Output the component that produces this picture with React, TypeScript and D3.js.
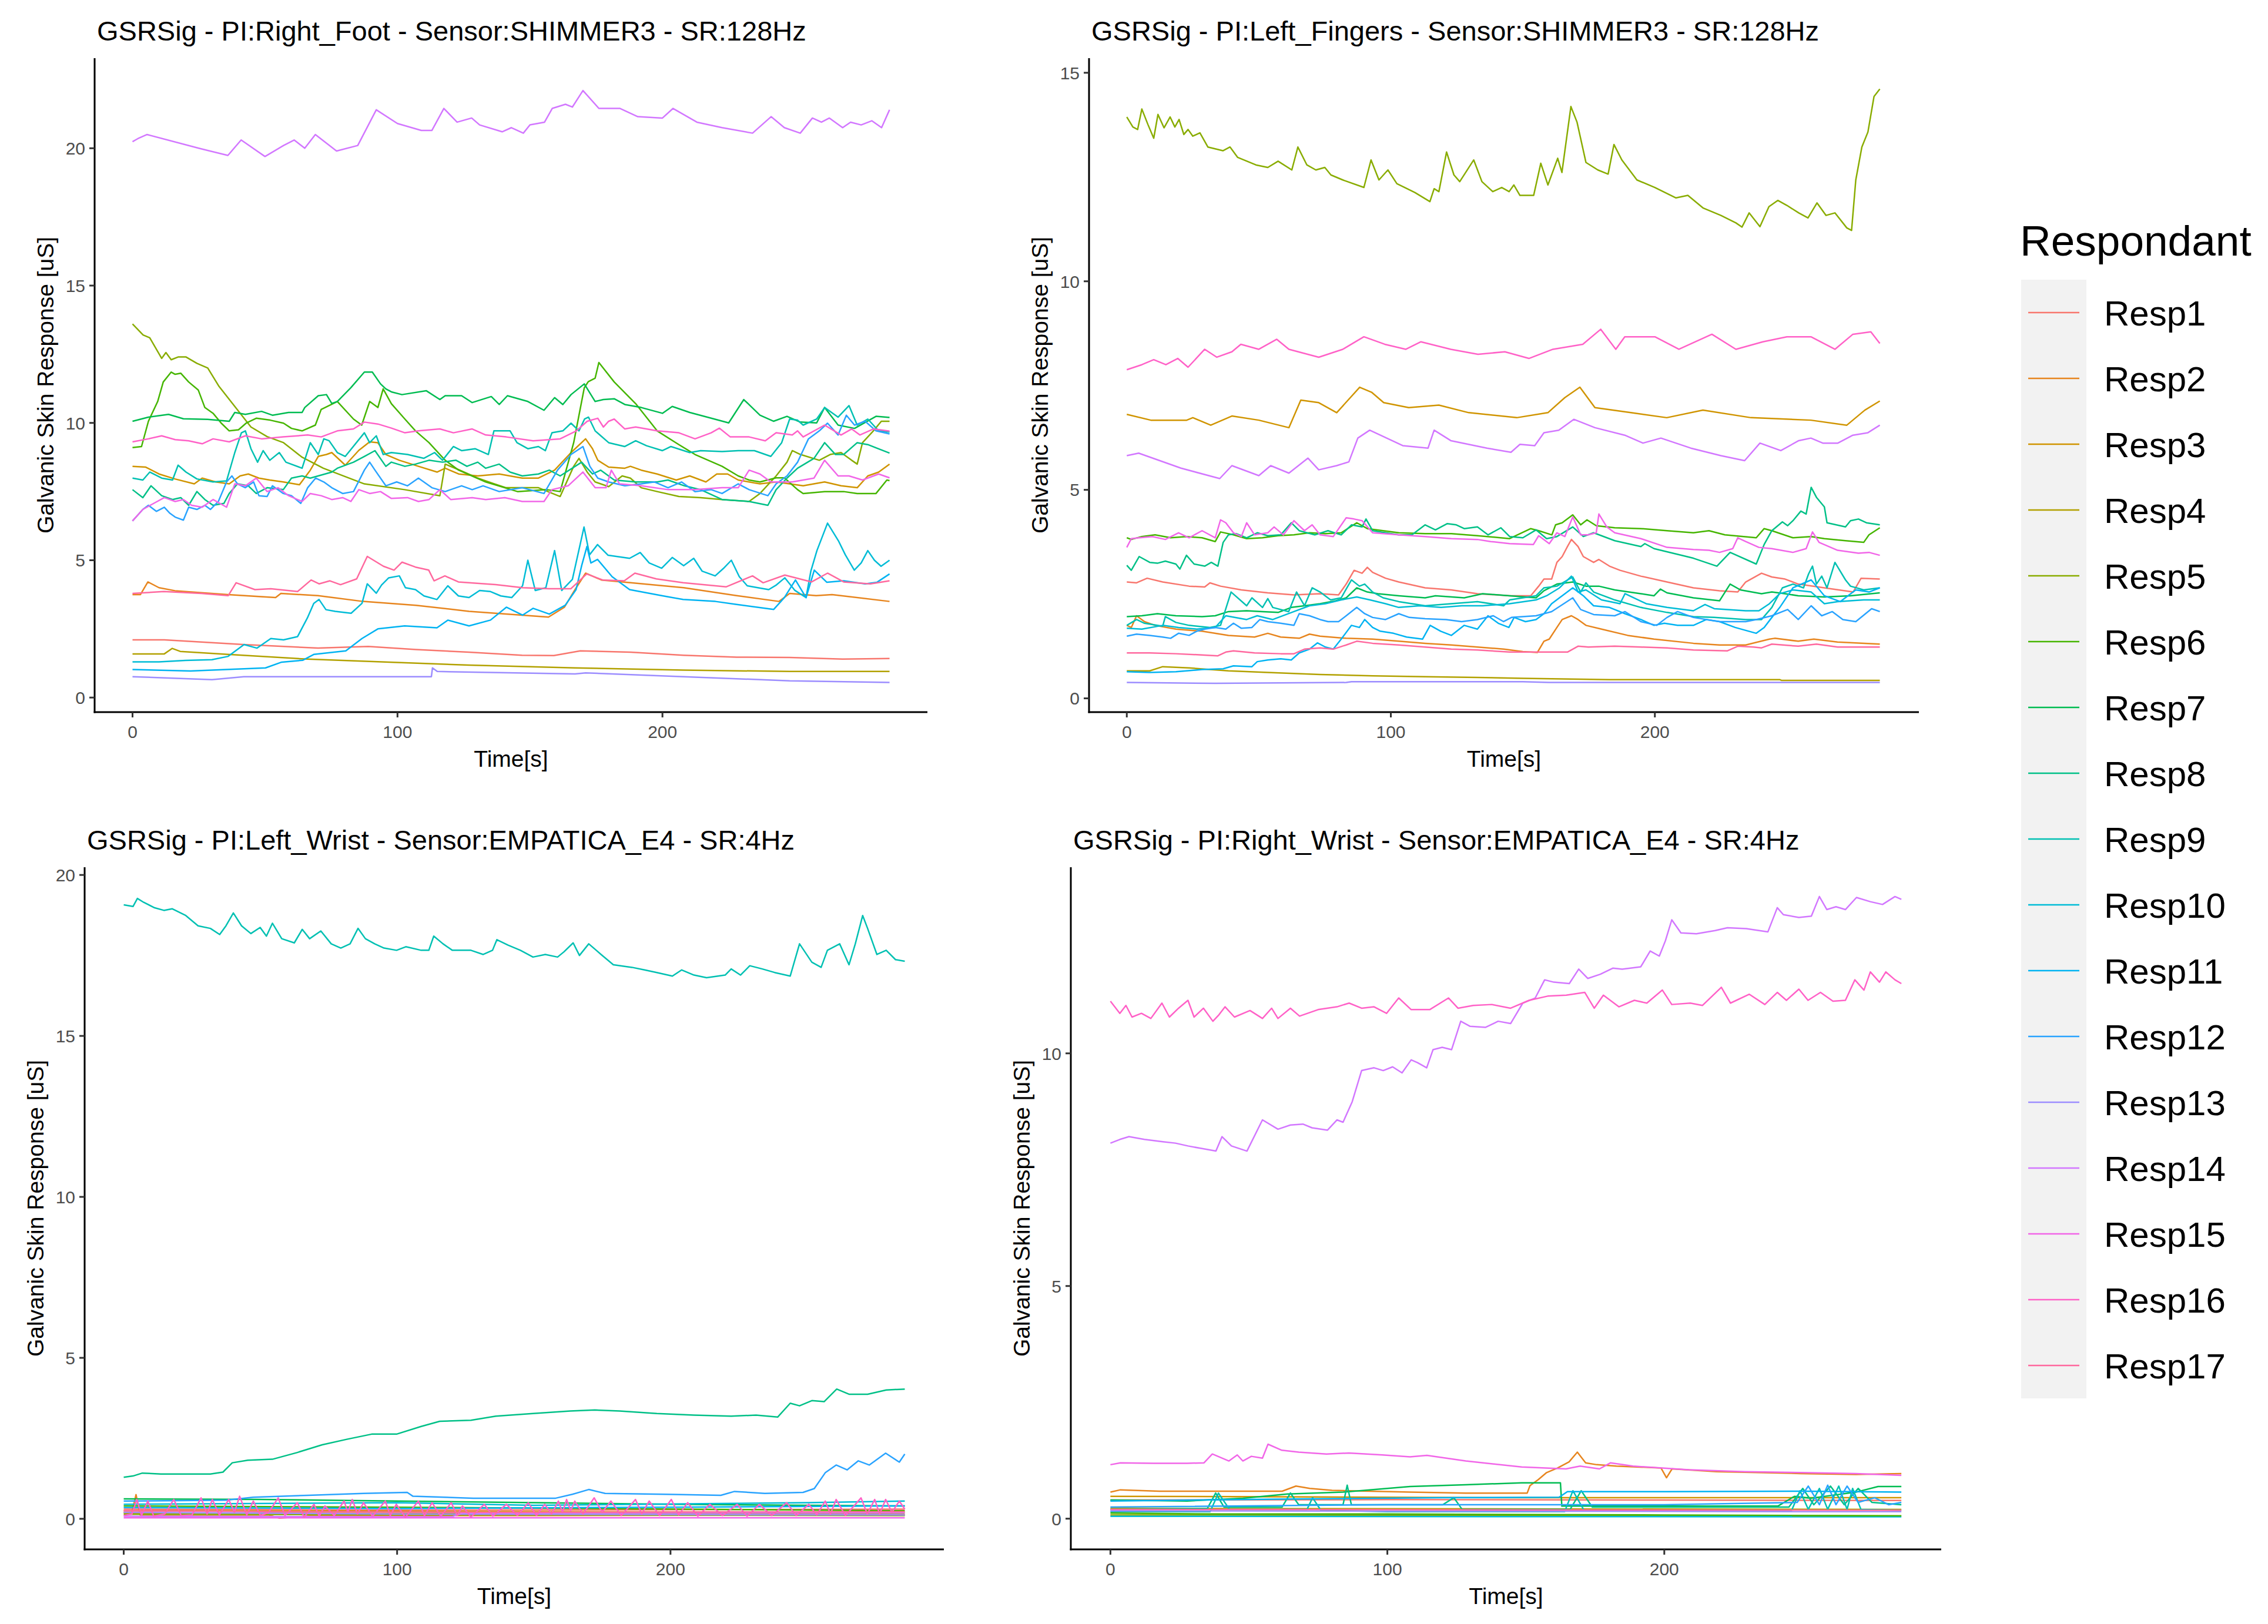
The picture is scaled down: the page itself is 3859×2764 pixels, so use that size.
import * as d3 from "d3";
import { useEffect } from "react";

type Pt = [number, number];

const WIDTH = 3859;
const HEIGHT = 2764;
const FONT = "'Liberation Sans', Arial, Helvetica, sans-serif";

const respondents = [
  "Resp1", "Resp2", "Resp3", "Resp4", "Resp5", "Resp6", "Resp7", "Resp8", "Resp9",
  "Resp10", "Resp11", "Resp12", "Resp13", "Resp14", "Resp15", "Resp16", "Resp17",
];
const xTicks = [0, 100, 200];

// ggplot2 hue_pal(): hcl(h, c = 100, l = 65), polar LUV -> sRGB as R does it
function hcl(h: number, c = 100, l = 65): string {
  const rad = (h * Math.PI) / 180;
  const Y = l > 7.999592 ? Math.pow((l + 16) / 116, 3) : l / 903.3;
  const u = (c * Math.cos(rad)) / (13 * l) + 0.1978398;
  const v = (c * Math.sin(rad)) / (13 * l) + 0.4683363;
  const X = (9 * Y * u) / (4 * v);
  const Z = -X / 3 - 5 * Y + (3 * Y) / v;
  const g = (t: number) => (t > 0.00304 ? 1.055 * Math.pow(t, 1 / 2.4) - 0.055 : 12.92 * t);
  const ch = (t: number) => Math.round(255 * Math.min(1, Math.max(0, g(t))));
  return d3.rgb(
    ch(3.240479 * X - 1.53715 * Y - 0.498535 * Z),
    ch(-0.969256 * X + 1.875992 * Y + 0.041556 * Z),
    ch(0.055648 * X - 0.204043 * Y + 1.057311 * Z)
  ).formatHex();
}
const hueStep = 360 / respondents.length;
const colors = respondents.map((_, i) => hcl((15 + i * hueStep) % 360));

// ---------------- PI: Right_Foot (SHIMMER3) ----------------
const foot_r1: Pt[] = [[0,2.1],[12,2.1],[42,1.93],[70,1.8],[89,1.86],[107,1.75],[127,1.65],[147,1.54],[159,1.53],[169,1.7],[188,1.65],[208,1.54],[228,1.47],[248,1.46],[268,1.4],[285.7,1.42]];
const foot_r2: Pt[] = [[0,3.75],[3,3.75],[5.8,4.21],[10,4.0],[16,3.89],[36,3.75],[54,3.64],[56,3.79],[70,3.71],[87,3.5],[107,3.36],[127,3.14],[147,3.0],[157,2.93],[163,3.29],[167,3.93],[171,4.53],[177,4.28],[188,4.18],[208,4.0],[228,3.71],[244,3.5],[248,3.79],[258,3.71],[264,3.75],[285.7,3.5]];
const foot_r3: Pt[] = [[0,8.42],[5,8.39],[10,8.14],[16,7.96],[23.3,7.78],[26.3,7.99],[31.4,7.85],[36.5,7.78],[40.6,8.07],[43.7,8.14],[47.7,7.99],[51.8,7.92],[56.9,7.85],[63,7.75],[67.1,8.28],[70.1,8.78],[73.2,8.85],[75.2,8.92],[80.3,8.46],[85.4,9.0],[89.5,9.31],[92.6,9.28],[95.6,8.85],[100.7,8.64],[107.9,8.42],[115,8.21],[118,8.35],[123.1,8.14],[130.3,8.07],[138.4,8.14],[147.1,7.99],[153.2,7.99],[159.3,8.28],[165.5,8.92],[171,9.42],[173.6,9.06],[175.6,8.64],[179.7,8.39],[185.8,8.35],[187.9,8.42],[192,8.28],[198,8.14],[205.2,7.92],[210.3,8.07],[216.4,7.85],[220.5,8.14],[224.6,8.14],[228.6,7.92],[236.8,7.78],[242.9,7.85],[253.1,7.71],[261.2,7.85],[267.4,7.71],[273.5,7.64],[277.5,8.07],[281.6,8.21],[285.7,8.5]];
const foot_r4: Pt[] = [[0,1.59],[12,1.59],[15,1.79],[18,1.68],[36,1.57],[66,1.4],[97,1.29],[127,1.18],[167,1.08],[208,1.0],[248,0.95],[285.7,0.95]];
const foot_r5: Pt[] = [[0,13.6],[4,13.2],[6.5,13.1],[11,12.35],[12.6,12.56],[14.6,12.3],[17.2,12.4],[20.2,12.4],[24.3,12.17],[28.4,12.0],[32.5,11.35],[38.6,10.6],[44.7,9.85],[50.8,9.5],[57,9.28],[64,8.75],[72,8.35],[87.5,7.78],[102.7,7.57],[116,7.35],[118,8.5],[123,8.3],[130,8.0],[136,7.8],[141,7.64],[153.2,7.64],[161.4,7.32],[166.5,8.42],[168.5,8.71],[171.6,8.21],[174.6,7.85],[179.7,7.68],[184.8,8.07],[187.9,7.99],[192,7.64],[198,7.5],[206.2,7.32],[214.4,7.28],[222.5,7.21],[232.7,7.14],[236.8,7.43],[242.9,8.07],[247,8.57],[249,8.99],[252.1,8.85],[259.2,8.64],[263.3,8.85],[267.4,8.92],[271.4,8.64],[273.5,8.5],[275.5,9.28],[279.6,9.71],[282.6,10.06],[285.7,10.06]];
const foot_r6: Pt[] = [[0,9.1],[3.4,9.14],[6,10.06],[9.5,10.78],[11.6,11.49],[14.6,11.85],[16.1,11.77],[18.2,11.81],[21.2,11.49],[24.8,11.2],[27.3,10.56],[30.4,10.35],[33.5,9.99],[36.5,9.71],[40,9.75],[43,10.0],[46.7,10.17],[52,10.1],[57,9.99],[60,9.8],[64,9.71],[69,9.92],[71.2,10.49],[77.3,10.78],[83.4,10.14],[86.5,9.92],[89.5,10.78],[92.6,10.56],[94.6,11.24],[97.7,10.7],[102.8,10.14],[106.8,9.71],[111.9,9.28],[118,8.64],[123.1,8.28],[133.3,7.85],[145.3,7.5],[156.3,7.57],[161.4,7.5],[166.5,9.28],[170.5,11.28],[172,11.5],[174.6,11.63],[176,12.2],[181.8,11.49],[189.9,10.7],[198,9.71],[206.2,9.21],[212.3,8.85],[222.5,8.42],[228.6,8.07],[232.7,7.92],[236.8,7.85],[242.9,8.0],[246,8.0],[251,7.57],[253.1,7.43],[261.2,7.5],[268.4,7.5],[273.5,7.43],[280.6,7.43],[284.7,7.92],[285.7,7.9]];
const foot_r7: Pt[] = [[0,10.06],[6,10.21],[13.6,10.31],[19.2,10.15],[28.4,10.13],[36.5,10.06],[38.6,10.38],[42.6,10.31],[48.7,10.42],[52.8,10.28],[58.9,10.38],[64,10.38],[65,10.56],[70.1,10.99],[73.2,11.03],[75.2,10.71],[77.3,10.78],[82.4,11.28],[87.5,11.85],[90.5,11.85],[93.6,11.42],[95.6,11.24],[97.7,11.13],[101.7,11.03],[110.9,11.17],[116,10.85],[118,10.99],[124.2,10.99],[128.2,10.74],[135.4,10.96],[138.4,10.67],[141.5,10.99],[149.2,10.78],[155.3,10.46],[159.3,10.92],[162.4,10.67],[165.5,11.03],[170.5,11.42],[174.6,10.78],[177.7,10.85],[181.8,10.88],[185.8,10.67],[192,10.56],[200,10.35],[203.7,10.6],[210.3,10.38],[218.4,10.17],[225,10.0],[230.7,10.85],[236.8,10.28],[241.9,10.06],[247,10.24],[252,10.03],[258.2,10.0],[261.2,10.56],[266.3,9.92],[272.5,9.8],[280.6,10.24],[285.7,10.2]];
const foot_r8: Pt[] = [[0,7.57],[3.9,7.28],[7,7.71],[11,7.35],[15.1,7.21],[18.2,7.28],[21.2,7.0],[24.3,7.5],[27.3,7.21],[30.4,7.0],[34.5,7.07],[36.5,7.43],[39.6,7.78],[43.7,7.71],[46.7,7.43],[50.8,7.64],[56.9,7.57],[60,7.99],[64,8.07],[67.1,7.99],[75.2,8.21],[77.3,8.35],[83.4,8.57],[87.5,8.78],[91.5,8.99],[95.6,8.42],[97.7,8.57],[102.8,8.42],[106.8,8.5],[111.9,8.64],[117,8.57],[122.1,8.64],[126.2,8.42],[130.3,8.57],[133.3,8.35],[138.4,8.5],[142.5,8.21],[147.1,8.07],[153.2,8.14],[157.3,8.28],[161.4,8.07],[169.5,8.57],[173.6,8.14],[176.7,8.28],[181.8,7.92],[189.9,7.85],[198,7.85],[202.1,7.92],[208.3,7.71],[214.4,7.57],[222.5,7.21],[232.7,7.14],[239.8,7.0],[242.9,7.57],[247,7.99],[251,8.35],[257.2,8.71],[261.2,9.28],[265.3,8.85],[268.4,8.85],[273.5,9.28],[277.5,9.21],[285.7,8.9]];
const foot_r9: Pt[] = [[0,7.99],[3.9,7.92],[6.5,8.21],[11,7.99],[15.1,7.92],[17.2,8.46],[20.2,8.21],[24.3,7.96],[30.4,7.85],[35.5,7.89],[38.6,8.92],[41.1,9.64],[42.6,9.71],[44.7,9.06],[47.2,8.57],[49.3,8.99],[51.8,8.64],[55.4,8.92],[57.9,8.57],[64,8.35],[67.1,9.28],[70.1,8.85],[72.2,9.42],[74.2,9.35],[77.3,8.92],[80.3,8.78],[87.5,9.64],[89.5,9.28],[92,9.53],[94.6,8.85],[97.7,8.92],[103.8,8.85],[109.9,8.71],[114,8.92],[117,8.64],[121.1,9.14],[124.2,8.99],[129.3,9.06],[134.3,8.85],[136.4,9.71],[142.5,9.71],[145.1,9.28],[149.2,9.06],[153.2,9.14],[155.8,8.99],[158.3,9.64],[162.4,9.71],[165.5,9.99],[168.5,9.71],[170.6,10.14],[172.1,10.21],[174.6,9.71],[179.7,9.28],[185.8,9.14],[189.9,9.35],[194,9.17],[200,8.99],[203.2,9.14],[210.3,8.92],[214.4,8.99],[222.5,8.96],[228.6,8.99],[234.7,8.99],[240.9,8.78],[245,9.28],[248,10.14],[251,10.1],[253.1,9.92],[258.2,10.14],[261.2,10.56],[266.3,10.21],[270.4,10.63],[273.5,9.92],[277.5,10.14],[281.6,9.71],[285.7,9.67]];
const foot_r10: Pt[] = [[0,1.3],[10,1.3],[20,1.35],[30,1.38],[36.1,1.5],[42.1,1.93],[47,1.8],[52.2,2.15],[57,2.1],[62.3,2.22],[66,2.9],[68.4,3.43],[70.4,3.57],[73,3.2],[76.5,3.14],[82.5,3.07],[86.6,3.43],[88.6,4.14],[92,3.8],[94,4.1],[96.7,4.36],[100.7,4.43],[103,4.0],[106.8,3.93],[110,3.7],[114.9,3.57],[119,4.07],[123,3.7],[127,3.64],[131,3.9],[135.1,3.86],[139,3.7],[143.1,3.64],[147.2,4.07],[149.2,5.0],[152,3.9],[156,4.0],[159.3,5.35],[162,3.9],[166,4.3],[170.4,6.21],[172.5,5.2],[175.5,5.57],[179.5,5.18],[187.6,5.07],[191.6,5.28],[195,4.9],[199.7,4.71],[203.7,5.1],[208,4.8],[211.8,5.07],[215,4.6],[219.9,4.43],[223,4.7],[226,5.0],[229,4.4],[232,4.07],[236,4.0],[240.1,3.93],[243,4.1],[246.2,4.36],[250,3.9],[254.2,3.64],[256,4.6],[258.3,5.35],[262.3,6.35],[266.4,5.71],[269,5.2],[272.4,4.64],[275,4.9],[277.5,5.35],[280,5.0],[282.5,4.78],[285.7,5.0]];
const foot_r11: Pt[] = [[0,1.02],[21.9,0.97],[50.2,1.08],[56.3,1.29],[64.3,1.36],[68.4,1.57],[80.5,1.7],[86.6,2.15],[92.6,2.5],[102.7,2.61],[114.9,2.54],[119,2.82],[127,2.61],[135.1,2.82],[141.1,3.29],[147.2,3.0],[151.2,3.25],[157.3,3.04],[163.3,3.36],[167.4,3.93],[169.5,4.8],[171.5,5.5],[173,4.9],[175.5,5.03],[181,4.4],[187.6,3.93],[199.7,3.71],[207.8,3.57],[220,3.5],[228,3.39],[242,3.21],[246,3.64],[250.2,4.28],[254.2,3.64],[257.3,4.64],[262,4.2],[268.4,4.25],[276.5,4.14],[281,4.2],[285.7,4.5]];
const foot_r12: Pt[] = [[0,6.43],[3.9,6.85],[6,7.0],[9,6.78],[12,6.93],[14.1,6.71],[16.1,6.57],[19.2,6.46],[21.2,6.93],[24.3,6.85],[27.3,7.0],[29.4,6.85],[32.4,7.14],[35.5,7.85],[37.5,8.07],[39.6,7.78],[42.6,7.64],[45.7,7.85],[47.7,7.35],[50.8,7.32],[52.8,7.71],[56.9,7.43],[60,7.35],[63.5,7.07],[66.1,7.64],[69.1,7.99],[72.2,7.85],[75.2,7.64],[79.3,7.43],[83.4,7.5],[87.5,8.28],[89.5,8.57],[91.5,8.28],[95.6,7.71],[99.7,7.85],[103.8,7.71],[107.9,7.99],[113,7.64],[118,7.5],[124.2,7.71],[128.2,7.57],[132.3,7.71],[138.4,7.5],[147.1,7.64],[155.3,7.43],[160.4,8.28],[165.5,8.85],[170,9.14],[172.6,8.42],[175.6,7.99],[179.7,7.85],[185.8,7.71],[192,7.78],[197,7.85],[202.1,7.64],[207.2,7.85],[212.3,7.5],[218.4,7.57],[222.5,7.43],[228.6,7.78],[232.7,7.57],[239.8,7.35],[242.9,7.78],[247,8.07],[251,8.57],[255.1,9.42],[259.2,9.71],[262.3,9.99],[266.3,9.56],[269.4,10.28],[272.5,9.92],[276.5,10.06],[280.6,9.71],[285.7,9.6]];
const foot_r13: Pt[] = [[0,0.76],[30,0.65],[42,0.76],[112.8,0.76],[113.2,1.08],[115,0.95],[167,0.86],[171,0.9],[208,0.76],[248,0.61],[285.7,0.55]];
const foot_r14: Pt[] = [[0,20.24],[2,20.35],[5.5,20.5],[25,20.0],[36,19.74],[41,20.3],[50,19.7],[57,20.1],[61,20.3],[65,20.0],[69,20.5],[77,19.9],[85,20.1],[92,21.4],[100,20.9],[109,20.65],[113,20.65],[117.5,21.45],[122.5,20.95],[128,21.1],[131,20.85],[139.5,20.6],[143,20.75],[147.5,20.55],[150,20.85],[155.5,20.95],[158.4,21.45],[163.4,21.6],[166,21.5],[170,22.1],[176,21.45],[184,21.45],[190.7,21.15],[200,21.1],[204,21.45],[213,20.95],[222.5,20.75],[234,20.55],[241,21.15],[246,20.75],[252,20.55],[256.6,21.1],[260,20.95],[263,21.1],[268,20.75],[271,20.95],[275,20.85],[279,21.0],[282.7,20.75],[285.7,21.4]];
const foot_r15: Pt[] = [[0,6.43],[3.9,6.85],[8,7.07],[12,7.28],[16.1,7.14],[19.2,7.21],[22.3,7.0],[26.3,6.93],[30.4,7.21],[35.5,6.93],[38.6,7.78],[42.6,7.71],[46.7,7.99],[50.8,7.5],[54.9,7.64],[58.9,7.35],[64,7.14],[67.1,7.43],[71.2,7.35],[75.2,7.21],[79.3,7.28],[82.4,7.14],[85.4,7.57],[89.5,7.43],[93.6,7.5],[97.7,7.25],[103.8,7.28],[107.9,7.14],[111.9,7.21],[116,7.57],[120.1,7.21],[128.2,7.28],[133.3,7.21],[140.5,7.28],[147.1,7.14],[155.3,7.14],[158.3,7.57],[164.4,7.71],[170,8.21],[174.6,7.64],[178.7,7.64],[180.7,8.28],[183.8,7.78],[192,7.71],[202.1,7.57],[212.3,7.57],[222.5,7.64],[228.6,7.64],[232.7,8.28],[236.8,8.14],[240.9,7.85],[249,7.85],[257.2,7.99],[261.2,8.64],[266.3,8.07],[270.4,8.07],[275.5,7.92],[281.6,8.14],[285.7,8.0]];
const foot_r16: Pt[] = [[0,9.31],[6,9.42],[11,9.53],[16.1,9.39],[21.2,9.35],[26.3,9.24],[30.4,9.42],[36.5,9.31],[42.6,9.53],[48.7,9.42],[56.9,9.49],[66.1,9.56],[71.2,9.49],[77.3,9.71],[83.4,9.78],[87.5,10.03],[92.6,9.96],[97.7,9.81],[102.8,9.64],[107.9,9.71],[116,9.78],[121.1,9.64],[128.2,9.78],[133.3,9.56],[141,9.49],[151.2,9.35],[161.4,9.42],[167.5,9.71],[171.6,10.06],[175.6,10.17],[177.7,9.85],[179.7,10.06],[181.8,10.14],[185.8,9.78],[189.9,9.85],[198,9.71],[206.2,9.64],[212.3,9.42],[218.4,9.64],[221.5,9.81],[225.6,9.49],[232.7,9.49],[238.8,9.35],[242.9,9.64],[249,9.56],[251,9.71],[253.1,9.49],[261.2,9.92],[267.4,9.56],[271.4,9.78],[274.5,9.56],[279.6,9.78],[285.7,9.7]];
const foot_r17: Pt[] = [[0,3.79],[11.8,3.86],[26,3.79],[36.1,3.71],[39.1,4.18],[46.2,3.93],[52.2,3.96],[62.3,3.86],[67.4,4.28],[70.4,4.14],[74.5,4.25],[78.5,4.11],[84.6,4.32],[88.6,5.14],[94.7,4.78],[98.7,4.64],[101.7,4.93],[106.8,4.75],[111.8,4.64],[113.8,4.25],[117.9,4.43],[123,4.21],[137.1,4.11],[147.2,4.0],[157.3,3.96],[165.4,3.96],[171.4,4.5],[177.5,4.28],[185.6,4.25],[189.6,4.53],[197.7,4.32],[207.8,4.18],[224,4.03],[234,4.43],[238,4.18],[246.2,4.46],[256.3,4.21],[262.3,4.53],[268.4,4.21],[278.5,4.14],[285.7,4.25]];

// ---------------- PI: Left_Fingers (SHIMMER3) ----------------
const fing_r1: Pt[] = [[0,2.79],[3.7,2.77],[7.7,2.88],[13.6,2.79],[23.6,2.69],[29.5,2.67],[31.5,2.77],[35.5,2.69],[43.4,2.6],[53.4,2.53],[63.3,2.48],[73.2,2.51],[80.2,2.48],[83.1,2.74],[86.1,3.07],[89.1,3.0],[91.1,3.14],[93.1,3.02],[98,2.88],[103,2.79],[113,2.65],[122.9,2.6],[132.8,2.51],[145,2.46],[153,2.46],[156,2.69],[158,2.86],[160.9,2.86],[162.9,3.26],[164.9,3.4],[166.9,3.64],[168.4,3.81],[170.9,3.64],[172.9,3.4],[176.8,3.26],[178.8,3.33],[182.8,3.17],[186.8,3.07],[194.7,2.93],[204.6,2.79],[214.6,2.65],[224.5,2.58],[231.4,2.55],[234.4,2.79],[238.4,2.93],[240.4,3.0],[244.3,2.91],[249.3,2.86],[254.3,2.74],[264.2,2.65],[275.1,2.55],[278.1,2.88],[285.2,2.86]];
const fing_r2: Pt[] = [[0,1.75],[1.7,1.7],[3.7,1.98],[6.7,1.84],[10.7,1.75],[18.6,1.66],[28.5,1.61],[38.5,1.51],[48.4,1.47],[53.4,1.56],[58.3,1.47],[65.3,1.44],[69.2,1.54],[73.2,1.49],[83.1,1.44],[93.1,1.42],[103,1.37],[113,1.32],[122.9,1.28],[132.8,1.23],[142.7,1.18],[150,1.12],[155.5,1.1],[158,1.37],[160,1.42],[162.9,1.7],[164.9,1.89],[168.4,1.98],[170.9,1.89],[173.9,1.75],[179.8,1.66],[189.7,1.51],[199.7,1.42],[214.6,1.32],[224.5,1.28],[234.4,1.28],[243.4,1.42],[245.4,1.44],[254.3,1.37],[260.2,1.42],[269.2,1.35],[285.2,1.3]];
const fing_r3: Pt[] = [[0,6.81],[9.1,6.67],[22.7,6.67],[25,6.73],[31.8,6.55],[39.8,6.77],[50,6.67],[61.4,6.49],[65.9,7.15],[72.7,7.09],[79.5,6.85],[88.2,7.46],[92.7,7.34],[97.3,7.09],[106.8,6.97],[118.2,7.03],[129.5,6.85],[147.7,6.73],[159.5,6.85],[165.9,7.21],[171.6,7.46],[177.3,6.97],[190.9,6.85],[204.5,6.73],[218.2,6.91],[236.4,6.73],[259.1,6.67],[272.7,6.55],[279.5,6.91],[285.2,7.13]];
const fing_r4: Pt[] = [[0,0.66],[8.7,0.66],[13.6,0.76],[23.6,0.73],[38.5,0.66],[53.4,0.62],[73.2,0.57],[93.1,0.54],[113,0.52],[132.8,0.5],[150,0.48],[182.8,0.45],[247.3,0.45],[248,0.43],[285.2,0.43]];
const fing_r5: Pt[] = [[0,13.94],[2.3,13.7],[4.1,13.64],[5.7,14.13],[8,13.76],[10.2,13.43],[11.8,14.0],[14.1,13.68],[16.4,13.94],[18.2,13.7],[19.8,13.88],[21.6,13.52],[23.2,13.64],[25,13.48],[27.7,13.56],[30.7,13.22],[36.4,13.13],[39.1,13.22],[42,12.97],[48.9,12.79],[53.4,12.73],[57.3,12.88],[62.5,12.67],[64.8,13.22],[68.2,12.79],[71.6,12.67],[75,12.73],[77.3,12.55],[81.8,12.43],[89.8,12.25],[92.5,12.91],[95.5,12.43],[98.9,12.67],[102.3,12.34],[109.1,12.13],[114.8,11.91],[116.4,12.22],[118.2,12.15],[121.1,13.1],[123.9,12.55],[126.1,12.39],[131.4,12.91],[134.5,12.39],[138.6,12.15],[142,12.25],[144.8,12.15],[146.6,12.31],[148.9,12.06],[154.1,12.06],[156.8,12.83],[159.5,12.31],[163.2,12.95],[164.8,12.61],[168.2,14.19],[170.5,13.82],[173.9,12.85],[178.4,12.67],[182.3,12.57],[184.5,13.28],[187.5,12.91],[193.2,12.43],[200,12.25],[208,12.0],[212.5,12.06],[218.2,11.76],[225,11.58],[230.7,11.4],[233,11.3],[235.7,11.64],[239.8,11.31],[243.2,11.79],[246.6,11.94],[250,11.82],[254.5,11.64],[258,11.52],[261.4,11.88],[264.8,11.58],[268.2,11.64],[272.7,11.28],[274.5,11.22],[276.1,12.43],[278.4,13.22],[280.7,13.58],[283,14.43],[285.2,14.61]];
const fing_r6: Pt[] = [[0,3.85],[1.7,3.81],[5.7,3.88],[10.7,3.92],[16.6,3.85],[22.6,3.88],[28.5,3.85],[33.5,3.76],[35.5,3.99],[40.4,3.92],[45.4,3.83],[51.4,3.85],[57.3,3.9],[63.3,3.92],[69.2,3.97],[75.2,3.95],[81.2,3.97],[87.1,4.21],[91.1,4.07],[97.1,4.02],[103,3.97],[113,3.95],[122.9,3.95],[132.8,3.9],[145,3.83],[153,4.07],[156,4.02],[161,3.92],[162.4,4.16],[164.9,4.21],[168.9,4.4],[171.9,4.16],[174.3,4.28],[177.8,4.14],[184.8,4.09],[194.7,4.07],[204.6,4.02],[214.6,3.97],[220.5,4.02],[226.5,3.92],[238.4,3.85],[241.4,4.07],[244.3,4.02],[252.3,3.85],[259.2,3.88],[264.2,3.83],[272.2,3.78],[279.1,3.74],[281.1,3.92],[285.2,4.09]];
const fing_r7: Pt[] = [[0,1.96],[5.7,1.98],[11.6,2.03],[18.6,1.98],[28.5,1.96],[33.5,1.98],[38.5,2.08],[45.4,2.1],[51.4,2.08],[57.3,2.06],[62.3,2.18],[67.3,2.22],[73.2,2.27],[79.2,2.34],[83.1,2.41],[87.1,2.65],[91.1,2.55],[95.1,2.51],[103,2.46],[113,2.41],[116.9,2.46],[127.8,2.41],[134.8,2.51],[145,2.46],[155,2.41],[158,2.58],[162.9,2.74],[168.9,2.79],[173.9,2.69],[178.8,2.69],[184.8,2.6],[194.7,2.51],[199.7,2.46],[202.1,2.62],[204.6,2.53],[214.6,2.41],[224.5,2.34],[228.5,2.74],[232.4,2.6],[240.4,2.51],[244.3,2.55],[249.3,2.51],[254.3,2.46],[264.2,2.43],[274.1,2.46],[285.2,2.53]];
const fing_r8: Pt[] = [[0,3.19],[1.7,3.07],[4.7,3.4],[8.7,3.26],[11.6,3.24],[14.6,3.29],[18.6,3.22],[20.1,3.1],[22.6,3.43],[25.5,3.22],[29.5,3.17],[32,3.26],[34.5,3.17],[36.5,3.74],[38.5,3.92],[41.4,3.95],[45.4,3.85],[49.4,3.97],[53.4,3.9],[58.3,3.92],[62.3,4.21],[65.3,4.02],[71.2,3.92],[76.2,4.02],[81.2,3.92],[85.1,4.16],[89.1,4.11],[90.6,4.3],[93.1,4.02],[98,3.97],[103,3.92],[108,3.92],[113,4.16],[116.9,4.04],[121.4,4.19],[124.8,4.16],[127.8,4.07],[132.8,4.11],[136.8,3.92],[141.7,4.09],[145,3.88],[150,3.85],[155,4.04],[159,3.83],[162.9,3.88],[167.9,4.07],[168.9,4.11],[172.9,3.88],[176.8,3.97],[184.8,3.78],[194.7,3.64],[196.2,3.71],[199.7,3.59],[214.6,3.36],[223.5,3.17],[228.5,3.5],[238.4,3.22],[241.4,3.69],[244.3,4.02],[248.3,4.23],[250.3,4.14],[252.3,4.26],[255.3,4.49],[257.3,4.42],[259.2,5.06],[261.2,4.82],[264.2,4.59],[265.2,4.21],[272.2,4.11],[274.1,4.26],[277.1,4.3],[280.1,4.21],[285.2,4.16]];
const fing_r9: Pt[] = [[0,1.75],[3.7,1.89],[6.7,1.8],[13.6,1.73],[14.6,1.96],[18.6,1.82],[23.6,1.75],[31.5,1.7],[35.5,1.75],[39.5,2.55],[45.4,2.22],[47.4,2.41],[51.4,2.18],[53.4,2.39],[55.3,2.18],[61.3,2.08],[64.3,2.55],[67.3,2.22],[70.2,2.65],[73.2,2.55],[77.2,2.36],[81.2,2.41],[85.1,2.84],[88.1,2.69],[90.1,2.74],[93.1,2.55],[97.1,2.41],[103,2.32],[113,2.22],[122.9,2.27],[132.8,2.32],[142.7,2.22],[145,2.36],[155,2.46],[158,2.65],[162.9,2.69],[168.9,2.91],[171.9,2.55],[173.9,2.77],[176.8,2.55],[184.8,2.36],[194.7,2.18],[204.6,2.06],[214.6,1.96],[222.5,1.94],[234.4,1.89],[240.4,1.89],[244.3,2.18],[248.3,2.65],[252.3,2.74],[256.3,2.65],[258.2,2.98],[259.7,3.17],[261.2,2.74],[263.2,2.93],[265.2,2.65],[268.2,3.26],[272.2,2.84],[274.1,2.69],[279.1,2.6],[285.2,2.65]];
const fing_r10: Pt[] = [[0,1.68],[5.7,1.66],[13.6,1.75],[19.6,1.7],[26.5,1.66],[33.5,1.7],[37.5,1.98],[45.4,1.89],[49.4,1.98],[55.3,1.89],[63.3,2.08],[69.2,2.22],[75.2,2.27],[81.2,2.36],[87.1,2.43],[92.1,2.36],[98,2.27],[103,2.18],[111,2.22],[119,2.18],[126.9,2.22],[134.8,2.22],[145,2.27],[155,2.36],[159,2.46],[163.9,2.65],[168.4,2.93],[170.9,2.55],[173.9,2.6],[179.8,2.36],[186.8,2.27],[188.7,2.51],[196.7,2.27],[204.6,2.18],[214.6,2.1],[219,2.25],[222.5,2.15],[234.4,2.1],[239.4,2.1],[243.4,2.27],[247.3,2.51],[252.3,2.6],[259.2,2.55],[264.2,2.27],[269.2,2.32],[274.1,2.34],[279.1,2.36],[285.2,2.36]];
const fing_r11: Pt[] = [[0,0.64],[8.7,0.62],[18.6,0.64],[28.5,0.69],[36.5,0.71],[40.4,0.78],[47.4,0.76],[49.4,0.88],[53.4,0.92],[58.3,0.95],[62.3,0.92],[65.3,1.09],[69.2,1.18],[72.2,1.33],[75.2,1.23],[78.2,1.18],[81.2,1.42],[85.1,1.75],[88.1,1.7],[90.1,1.89],[93.1,1.7],[96,1.61],[101,1.56],[106,1.47],[112,1.42],[114.9,1.75],[118.9,1.61],[122.9,1.51],[127.8,1.75],[132.8,1.66],[136.8,1.98],[140.7,1.8],[144.7,1.7],[146.7,1.94],[151,1.84],[155,1.89],[158,2.03],[160.9,2.27],[164.9,2.46],[168.9,2.65],[172.9,2.46],[176.8,2.22],[182.8,2.18],[188.7,2.03],[194.7,1.89],[199.7,1.75],[203.6,1.8],[208.6,1.75],[214.6,1.75],[219.5,1.89],[224.5,1.84],[230.4,1.7],[238.4,1.56],[241.4,1.7],[244.3,1.94],[247.3,2.18],[252.3,2.65],[259.2,2.84],[264.2,2.46],[270.2,2.32],[276.1,2.6],[281.1,2.55],[285.2,2.65]];
const fing_r12: Pt[] = [[0,1.49],[3.7,1.54],[8.7,1.51],[13.6,1.47],[16.6,1.44],[19.6,1.56],[23.6,1.51],[26.5,1.61],[29.5,1.66],[33.5,1.7],[37.5,1.66],[40.4,1.8],[43.4,1.68],[47.4,1.7],[50.4,1.89],[53.4,1.84],[58.3,1.8],[63.3,1.75],[65.3,2.03],[69.2,1.98],[73.2,1.89],[76.2,1.84],[80.2,1.84],[83.1,1.98],[87.1,2.18],[90.1,2.03],[93.1,1.94],[98,1.89],[103,2.03],[107,1.94],[113,1.91],[120.9,1.89],[126.8,1.84],[132.8,1.89],[138.8,1.98],[142.7,1.84],[145.7,1.94],[155,1.98],[160.9,2.08],[168.9,2.41],[171.9,2.13],[176.8,2.01],[184.8,1.98],[188.7,2.08],[194.7,1.84],[200.7,1.75],[204.6,1.94],[208.6,2.08],[214.6,1.94],[224.5,1.84],[234.4,1.84],[238.4,1.89],[244.3,1.98],[250.3,2.13],[254.3,1.89],[259.2,2.22],[263.2,1.98],[267.2,2.08],[271.2,1.89],[276.1,1.84],[282.1,2.15],[285.2,2.08]];
const fing_r13: Pt[] = [[0,0.38],[33.5,0.36],[83.1,0.38],[85.1,0.4],[150,0.4],[160,0.38],[285.2,0.38]];
const fing_r14: Pt[] = [[0,5.82],[4.5,5.88],[20.5,5.52],[35.2,5.27],[39.8,5.58],[50,5.34],[54.5,5.58],[61.4,5.4],[68.6,5.76],[72.7,5.48],[79.5,5.58],[84.1,5.67],[87.5,6.24],[92,6.43],[104.5,6.06],[114.1,6.0],[116.4,6.43],[122.7,6.18],[136.4,6.0],[145.5,5.9],[148.9,6.09],[154.5,6.06],[158,6.37],[163.6,6.43],[169.3,6.69],[177.3,6.49],[188.6,6.31],[195.5,6.12],[202.3,6.24],[213.6,6.0],[225,5.82],[234,5.7],[239.8,6.12],[247.7,5.94],[254.5,6.18],[259.1,6.24],[263.6,6.12],[269.3,6.12],[275,6.31],[280.7,6.37],[285.2,6.55]];
const fing_r15: Pt[] = [[0,3.62],[1.7,3.83],[4.7,3.85],[9.7,3.88],[14.6,3.81],[19.6,3.97],[23.6,3.85],[28.5,4.02],[33.5,3.85],[35.5,4.28],[37.5,4.21],[40.4,3.97],[43.4,3.88],[45.4,4.21],[48.4,3.92],[53.4,3.97],[55.8,4.11],[59.3,3.92],[63.3,4.26],[67.3,4.02],[70.2,4.16],[73.2,3.92],[78.2,3.88],[83.1,4.33],[86.1,4.3],[89.1,4.26],[93.1,3.97],[103,3.92],[113,3.88],[122.9,3.83],[132.8,3.81],[137.8,3.76],[145,3.71],[154,3.69],[156,3.9],[160,3.71],[162.9,3.97],[165.9,3.88],[168.9,4.35],[171.9,3.92],[174.8,3.92],[177.8,3.97],[178.8,4.42],[181.8,4.11],[184.8,3.97],[194.7,3.83],[204.6,3.62],[214.6,3.57],[220.5,3.55],[224.5,3.5],[229.5,3.59],[231.4,3.85],[234.4,3.76],[239.4,3.62],[244.3,3.59],[252.3,3.5],[257.3,3.59],[259.7,3.99],[262.2,3.74],[269.2,3.55],[277.1,3.48],[281.1,3.5],[285.2,3.43]];
const fing_r16: Pt[] = [[0,7.88],[5.7,8.0],[10.2,8.12],[14.8,8.0],[19.3,8.15],[23.2,7.94],[29.5,8.37],[34.1,8.18],[39.8,8.31],[43.2,8.49],[50,8.37],[56.8,8.61],[61.4,8.37],[72.7,8.18],[81.8,8.37],[89.8,8.67],[97.7,8.49],[105.7,8.37],[111.4,8.55],[122.7,8.37],[133,8.25],[143.2,8.31],[152.3,8.15],[161.4,8.37],[172.7,8.49],[179.5,8.85],[185.2,8.37],[188.6,8.67],[200,8.67],[209.1,8.37],[221.6,8.73],[230.7,8.37],[240.9,8.55],[250,8.67],[259.1,8.67],[268.2,8.37],[275,8.73],[281.8,8.79],[285.2,8.51]];
const fing_r17: Pt[] = [[0,1.09],[8.7,1.09],[18.6,1.07],[28.5,1.04],[34.5,1.02],[37.5,1.11],[40.4,1.14],[48.4,1.09],[58.3,1.07],[63.3,1.07],[67.3,1.18],[73.2,1.21],[78.2,1.18],[83.1,1.28],[87.1,1.37],[93.1,1.32],[103,1.28],[113,1.23],[122.9,1.18],[132.8,1.16],[145,1.11],[155,1.11],[166.9,1.11],[170.9,1.25],[174.8,1.23],[184.8,1.25],[194.7,1.23],[204.6,1.21],[214.6,1.16],[227.5,1.14],[231.4,1.25],[237.4,1.23],[240.4,1.21],[244.3,1.3],[254.3,1.25],[261.2,1.3],[269.2,1.23],[285.2,1.23]];

// ---------------- PI: Left_Wrist (EMPATICA_E4) ----------------
const lw_r1: Pt[] = [[0,0.3],[100,0.27],[200,0.28],[285.7,0.3]];
const lw_r2: Pt[] = [[0,0.2],[3,0.2],[4.5,0.75],[6,0.12],[53,0.12],[57,0.02],[70,0.1],[150,0.1],[285.7,0.12]];
const lw_r3: Pt[] = [[0,0.25],[285.7,0.2]];
const lw_r4: Pt[] = [[0,0.18],[285.7,0.15]];
const lw_r5: Pt[] = [[0,0.14],[285.7,0.1]];
const lw_r6: Pt[] = [[0,0.4],[120,0.35],[285.7,0.25]];
const lw_r7: Pt[] = [[0,0.62],[50,0.6],[100,0.55],[200,0.45],[285.7,0.4]];
const lw_r8: Pt[] = [[0,1.29],[3.4,1.33],[6.8,1.42],[13.6,1.39],[22.7,1.39],[31.7,1.39],[36.3,1.45],[39.7,1.74],[45.4,1.82],[54.4,1.85],[63.5,2.06],[72.6,2.3],[81.6,2.47],[90.7,2.63],[99.8,2.63],[108.8,2.87],[115.6,3.03],[127,3.06],[136.1,3.19],[149.7,3.27],[163.3,3.35],[172.3,3.38],[181.4,3.35],[195,3.27],[208.6,3.22],[222.2,3.19],[231.3,3.22],[239.2,3.16],[243.8,3.59],[247.2,3.51],[251.7,3.67],[256.2,3.64],[260.8,4.03],[265.3,3.87],[272.1,3.87],[278.9,4.0],[285.7,4.03]];
const lw_r9: Pt[] = [[0,19.07],[3.4,19.02],[5,19.27],[7.3,19.15],[11.3,18.98],[14.7,18.9],[17.7,18.95],[22.7,18.74],[27.2,18.42],[31.7,18.34],[35.1,18.15],[37.4,18.42],[40.1,18.82],[43.1,18.42],[46.5,18.18],[49.9,18.37],[52.2,18.1],[54.4,18.5],[57.8,18.02],[62.4,17.89],[65.3,18.31],[68,18.02],[72.1,18.26],[75.9,17.86],[79.4,17.73],[82.8,17.86],[85.7,18.34],[88.4,18.02],[91.8,17.86],[95.2,17.73],[99.8,17.66],[103.2,17.77],[108.8,17.66],[111.6,17.66],[113.4,18.1],[116.8,17.86],[120.2,17.66],[127,17.66],[131.5,17.53],[134.9,17.66],[136.5,17.99],[140.6,17.82],[145.1,17.66],[149.7,17.45],[154.2,17.53],[158.7,17.45],[161,17.61],[164.4,17.89],[166.7,17.5],[170.1,17.86],[174.6,17.53],[179.1,17.21],[185.9,17.13],[190.5,17.05],[195,16.97],[200.7,16.86],[204.1,17.05],[208.6,16.89],[213.2,16.81],[220,16.89],[222.2,17.08],[225.6,16.89],[229,17.18],[233.6,17.08],[238.1,16.97],[243.8,16.86],[247.2,17.86],[251.7,17.29],[255.1,17.13],[257.4,17.66],[261.9,17.86],[265.3,17.21],[267.6,17.86],[270.3,18.74],[272.1,18.34],[275.5,17.53],[278.9,17.66],[282.3,17.37],[285.7,17.32]];
const lw_r10: Pt[] = [[0,0.45],[100,0.5],[150,0.42],[250,0.5],[285.7,0.55]];
const lw_r11: Pt[] = [[0,0.35],[100,0.32],[200,0.36],[285.7,0.4]];
const lw_r12: Pt[] = [[0,0.55],[37.4,0.58],[47.4,0.67],[67.5,0.73],[87.7,0.79],[103.7,0.82],[105.8,0.7],[127.9,0.64],[158,0.64],[164.1,0.76],[170.1,0.91],[176.1,0.79],[198.3,0.76],[218.4,0.73],[223.4,0.85],[234.5,0.79],[248.5,0.82],[252.6,0.94],[256.6,1.43],[260.6,1.67],[264.6,1.52],[268.7,1.8],[272.7,1.67],[278.7,2.04],[283.7,1.76],[285.7,2.01]];
const lw_r13: Pt[] = [[0,0.2],[100,0.15],[200,0.13],[285.7,0.12]];
const lw_r14: Pt[] = [[0,0.08],[120,0.06],[124,0.18],[285.7,0.18]];
const lw_r15: Pt[] = [[0,0.03],[285.7,0.03]];
const lw_r16: Pt[] = [[0,0.1],[3,0.15],[4.8,0.6],[6.5,0.1],[8.8,0.55],[11,0.08],[15,0.15],[18.3,0.6],[21,0.1],[25,0.12],[28.3,0.65],[30.5,0.15],[32.4,0.6],[35,0.12],[38.4,0.6],[40.5,0.2],[42.4,0.7],[45,0.12],[47.4,0.55],[50,0.1],[53,0.2],[56.5,0.65],[59,0.1],[63.5,0.5],[66,0.05],[69.6,0.45],[71.5,0.08],[73.6,0.4],[77,0.1],[80.6,0.55],[82,0.2],[83.6,0.6],[85.5,0.15],[87.7,0.5],[91,0.08],[95.7,0.55],[97.5,0.1],[99.7,0.45],[103,0.05],[107.8,0.55],[110,0.1],[112.8,0.5],[116,0.08],[119.8,0.5],[122,0.1],[123.9,0.4],[127,0.05],[131.9,0.45],[135,0.08],[140,0.45],[144,0.1],[148,0.5],[151,0.1],[154,0.45],[156.5,0.15],[159,0.55],[160.5,0.2],[162,0.6],[163.5,0.25],[165,0.55],[168,0.15],[172.1,0.65],[175,0.2],[178.2,0.55],[182,0.1],[187.2,0.6],[189.5,0.15],[192.2,0.55],[196,0.1],[200.3,0.6],[203,0.12],[206.3,0.5],[210,0.08],[214.4,0.45],[219,0.1],[224.4,0.45],[228,0.08],[232.5,0.45],[237,0.1],[242.5,0.5],[246,0.1],[250.6,0.45],[253.5,0.12],[256.6,0.55],[258.5,0.15],[260.6,0.6],[264,0.1],[269.7,0.65],[272,0.15],[274.7,0.6],[276.5,0.15],[278.7,0.6],[281,0.2],[283.7,0.55],[285.7,0.3]];
const lw_r17: Pt[] = [[0,0.25],[60,0.22],[140,0.2],[285.7,0.22]];

// ---------------- PI: Right_Wrist (EMPATICA_E4) ----------------
const rw_r1: Pt[] = [[0,0.4],[100,0.41],[200,0.4],[285.6,0.39]];
const rw_r2: Pt[] = [[0,0.57],[3.6,0.62],[17.7,0.59],[62,0.59],[67,0.7],[72,0.65],[80,0.61],[108.2,0.57],[128.3,0.55],[150.5,0.55],[151.5,0.71],[154.5,0.84],[157.5,0.99],[161.5,1.09],[165.6,1.22],[168.6,1.43],[171.6,1.2],[175.6,1.16],[182.7,1.13],[198.8,1.09],[200.8,0.88],[202.8,1.07],[218.9,1.01],[249.1,0.97],[269.2,0.95],[285.6,0.97]];
const rw_r3: Pt[] = [[0,0.48],[60,0.47],[150,0.45],[285.6,0.45]];
const rw_r4: Pt[] = [[0,0.22],[285.6,0.2]];
const rw_r5: Pt[] = [[0,0.08],[285.6,0.06]];
const rw_r6: Pt[] = [[0,0.12],[40,0.1],[100,0.1],[200,0.08],[285.6,0.06]];
const rw_r7: Pt[] = [[0,0.4],[27.7,0.38],[47.8,0.44],[64,0.53],[84,0.57],[108.2,0.69],[128.3,0.73],[148.5,0.77],[162.5,0.77],[163,0.27],[188.7,0.27],[241,0.27],[247,0.48],[253,0.44],[269.2,0.57],[277.2,0.69],[285.6,0.69]];
const rw_r8: Pt[] = [[0,0.2],[35,0.22],[38,0.55],[41,0.25],[62,0.25],[65,0.55],[68,0.3],[84,0.3],[85.5,0.72],[87,0.3],[120,0.3],[124,0.45],[127,0.2],[166,0.2],[170,0.6],[174,0.25],[245,0.25],[250,0.65],[254,0.3],[260,0.7],[265,0.3],[270,0.65],[275,0.35],[285.6,0.3]];
const rw_r9: Pt[] = [[0,0.15],[36,0.15],[39,0.55],[43,0.2],[71,0.2],[73,0.45],[76,0.18],[100,0.15],[164,0.15],[167,0.6],[171,0.18],[246,0.18],[249,0.6],[252,0.2],[256,0.65],[259,0.2],[263,0.7],[266,0.2],[268,0.65],[271,0.2],[285.6,0.18]];
const rw_r10: Pt[] = [[0,0.05],[285.6,0.04]];
const rw_r11: Pt[] = [[0,0.38],[60,0.42],[120,0.45],[162,0.46],[165,0.58],[200,0.58],[250,0.59],[285.6,0.57]];
const rw_r12: Pt[] = [[0,0.25],[100,0.3],[200,0.3],[248,0.35],[252,0.7],[256,0.3],[259,0.72],[262,0.3],[266,0.7],[270,0.35],[276,0.45],[281,0.3],[285.6,0.35]];
const rw_r13: Pt[] = [[0,0.17],[285.6,0.15]];
const rw_r14: Pt[] = [[0,8.07],[3.4,8.15],[6.7,8.21],[12.3,8.15],[19,8.1],[23.5,8.07],[28,8.01],[32.5,7.96],[38.1,7.9],[40.3,8.21],[43.7,8.01],[49.3,7.9],[54.9,8.57],[60.5,8.37],[65,8.46],[69.5,8.48],[72.8,8.4],[78.4,8.35],[81.8,8.57],[84,8.52],[87.3,8.96],[90.7,9.63],[95.2,9.69],[98.5,9.63],[101.9,9.71],[105.3,9.58],[108.6,9.86],[110.9,9.8],[114.2,9.69],[116.5,10.08],[119.8,10.13],[123.2,10.08],[126.5,10.69],[129.9,10.58],[135.5,10.56],[140,10.69],[144.5,10.64],[148.9,11.08],[153.4,11.19],[156.8,11.58],[160.1,11.53],[165.7,11.5],[169.1,11.81],[172.4,11.61],[176.9,11.7],[181.4,11.83],[184.8,11.81],[191.5,11.86],[194.9,12.2],[198.2,12.09],[200.4,12.42],[202.7,12.87],[206,12.59],[211.6,12.57],[218.4,12.64],[222.8,12.7],[229.6,12.68],[237.4,12.61],[240.8,13.13],[243,12.98],[248.6,12.92],[253.1,12.95],[256,13.37],[258.7,13.09],[262,13.15],[265.4,13.09],[269.4,13.35],[274.4,13.26],[278.8,13.2],[283.3,13.37],[285.6,13.31]];
const rw_r15: Pt[] = [[0,1.16],[3.6,1.2],[15.7,1.19],[27.7,1.19],[33.8,1.2],[36.8,1.39],[42.8,1.24],[45.8,1.37],[47.8,1.24],[50.9,1.34],[54.9,1.3],[56.9,1.6],[61.9,1.47],[68,1.43],[78,1.39],[86.1,1.41],[98.2,1.37],[108.2,1.33],[114.3,1.36],[128.3,1.24],[148.5,1.11],[164.5,1.07],[169.6,1.13],[176.6,1.07],[180.6,1.2],[188.7,1.13],[208.8,1.05],[228.9,1.01],[249.1,0.99],[269.2,0.97],[285.6,0.93]];
const rw_r16: Pt[] = [[0,11.12],[3.4,10.86],[5.6,11.03],[7.8,10.78],[11.2,10.86],[14.6,10.75],[18.6,11.08],[21.3,10.78],[24.6,10.97],[28,11.14],[30.2,10.78],[33.6,10.97],[37,10.69],[39.2,10.83],[41.4,11.0],[44.8,10.78],[50.4,10.92],[54.9,10.75],[58.2,10.97],[60.5,10.75],[65,10.97],[68.3,10.8],[75,10.94],[81.8,11.0],[86.2,11.08],[90.7,10.97],[95.2,11.0],[99.7,10.86],[104.1,11.19],[108.6,10.94],[115.3,10.94],[122.1,11.19],[125.5,10.97],[131,11.03],[137.7,11.05],[144.5,10.97],[151.2,11.14],[157.9,11.23],[164.6,11.25],[171.3,11.31],[174.7,10.97],[178,11.25],[183.6,11.0],[189.2,11.14],[193.7,11.08],[199.3,11.36],[202.7,11.05],[209.4,11.08],[213.8,11.03],[220.6,11.42],[223.9,11.08],[230.7,11.27],[236.3,11.05],[240.8,11.31],[244.1,11.14],[248.6,11.38],[251.9,11.14],[256.4,11.31],[260.9,11.12],[265.4,11.14],[268.8,11.58],[272.1,11.36],[274.4,11.75],[277.7,11.53],[280,11.75],[283.3,11.58],[285.6,11.5]];
const rw_r17: Pt[] = [[0,0.2],[285.6,0.18]];

type Series = [number, Pt[]];
const footSeries: Series[] = [[1,foot_r1],[2,foot_r2],[3,foot_r3],[4,foot_r4],[5,foot_r5],[6,foot_r6],[7,foot_r7],[8,foot_r8],[9,foot_r9],[10,foot_r10],[11,foot_r11],[12,foot_r12],[13,foot_r13],[14,foot_r14],[15,foot_r15],[16,foot_r16],[17,foot_r17]];
const fingSeries: Series[] = [[1,fing_r1],[2,fing_r2],[3,fing_r3],[4,fing_r4],[5,fing_r5],[6,fing_r6],[7,fing_r7],[8,fing_r8],[9,fing_r9],[10,fing_r10],[11,fing_r11],[12,fing_r12],[13,fing_r13],[14,fing_r14],[15,fing_r15],[16,fing_r16],[17,fing_r17]];
const lwSeries: Series[] = [[1,lw_r1],[2,lw_r2],[3,lw_r3],[4,lw_r4],[5,lw_r5],[6,lw_r6],[7,lw_r7],[8,lw_r8],[9,lw_r9],[10,lw_r10],[11,lw_r11],[12,lw_r12],[13,lw_r13],[14,lw_r14],[15,lw_r15],[16,lw_r16],[17,lw_r17]];
const rwSeries: Series[] = [[1,rw_r1],[2,rw_r2],[3,rw_r3],[4,rw_r4],[5,rw_r5],[6,rw_r6],[7,rw_r7],[8,rw_r8],[9,rw_r9],[10,rw_r10],[11,rw_r11],[12,rw_r12],[13,rw_r13],[14,rw_r14],[15,rw_r15],[16,rw_r16],[17,rw_r17]];

const footTicks = [0, 5, 10, 15, 20];
const fingTicks = [0, 5, 10, 15];
const lwTicks = [0, 5, 10, 15, 20];
const rwTicks = [0, 5, 10];

// layout (pixels)
interface PanelDef {
  title: string;
  series: Series[];
  yTicks: number[];
  yDomain: [number, number];
  left: number; right: number; top: number; bottom: number;
}
const panels: PanelDef[] = [
  { title: "GSRSig - PI:Right_Foot - Sensor:SHIMMER3 - SR:128Hz", series: footSeries, yTicks: footTicks, yDomain: [-0.53, 23.28], left: 161, right: 1578, top: 99, bottom: 1212 },
  { title: "GSRSig - PI:Left_Fingers - Sensor:SHIMMER3 - SR:128Hz", series: fingSeries, yTicks: fingTicks, yDomain: [-0.33, 15.35], left: 1853, right: 3265, top: 99, bottom: 1212 },
  { title: "GSRSig - PI:Left_Wrist - Sensor:EMPATICA_E4 - SR:4Hz", series: lwSeries, yTicks: lwTicks, yDomain: [-0.95, 20.24], left: 144, right: 1606, top: 1476, bottom: 2637 },
  { title: "GSRSig - PI:Right_Wrist - Sensor:EMPATICA_E4 - SR:4Hz", series: rwSeries, yTicks: rwTicks, yDomain: [-0.66, 14.0], left: 1822, right: 3303, top: 1476, bottom: 2637 },
];
const xDomain: [number, number] = [-14.3, 300];

const TICK_LEN = 9;
const LINE_W = 2.5;

function Panel({ p }: { p: PanelDef }) {
  const x = d3.scaleLinear().domain(xDomain).range([p.left, p.right]);
  const y = d3.scaleLinear().domain(p.yDomain).range([p.bottom, p.top]);
  const line = d3.line<Pt>().x((d) => x(d[0])).y((d) => y(d[1]));
  const midY = (p.top + p.bottom) / 2;
  return (
    <g>
      <g fill="none" strokeWidth={LINE_W} strokeLinejoin="round" strokeLinecap="butt">
        {p.series.map(([r, pts]) => (
          <path key={r} d={line(pts) ?? ""} stroke={colors[r - 1]} />
        ))}
      </g>
      {/* axes */}
      <line x1={p.left} x2={p.left} y1={p.top} y2={p.bottom + 1.5} stroke="#000" strokeWidth={3} />
      <line x1={p.left - 1.5} x2={p.right} y1={p.bottom} y2={p.bottom} stroke="#000" strokeWidth={3} />
      {p.yTicks.map((t) => (
        <g key={`y${t}`}>
          <line x1={p.left - TICK_LEN} x2={p.left} y1={y(t)} y2={y(t)} stroke="#333" strokeWidth={3} />
          <text x={p.left - 16} y={y(t)} dy="0.36em" textAnchor="end" fontSize={30} fill="#4D4D4D">{t}</text>
        </g>
      ))}
      {xTicks.map((t) => (
        <g key={`x${t}`}>
          <line x1={x(t)} x2={x(t)} y1={p.bottom} y2={p.bottom + TICK_LEN} stroke="#333" strokeWidth={3} />
          <text x={x(t)} y={p.bottom + 44} textAnchor="middle" fontSize={30} fill="#4D4D4D">{t}</text>
        </g>
      ))}
      <text x={(p.left + p.right) / 2} y={p.bottom + 93} textAnchor="middle" fontSize={39} fill="#000">Time[s]</text>
      <text transform={`translate(${p.left - 70},${midY}) rotate(-90)`} textAnchor="middle" fontSize={39} fill="#000">
        Galvanic Skin Response [uS]
      </text>
      <text x={p.left + 4} y={p.top - 30} fontSize={47} fill="#000">{p.title}</text>
    </g>
  );
}

function Legend() {
  const left = 3439;
  const keyTop = 476;
  const keyH = 112;
  const keyW = 111;
  return (
    <g>
      <text x={left - 2} y={435} fontSize={73} fill="#000">Respondant</text>
      <rect x={left} y={keyTop} width={keyW} height={keyH * respondents.length} fill="#F2F2F2" />
      {respondents.map((name, i) => {
        const cy = keyTop + keyH * (i + 0.5);
        return (
          <g key={name}>
            <line x1={left + 12} x2={left + keyW - 12} y1={cy} y2={cy} stroke={colors[i]} strokeWidth={LINE_W} />
            <text x={3580} y={cy} dy="0.36em" fontSize={60} fill="#000">{name}</text>
          </g>
        );
      })}
    </g>
  );
}

export default function App() {
  useEffect(() => {
    document.body.style.margin = "0";
  }, []);
  return (
    <svg width={WIDTH} height={HEIGHT} viewBox={`0 0 ${WIDTH} ${HEIGHT}`} style={{ display: "block", background: "#fff" }} fontFamily={FONT}>
      <rect width={WIDTH} height={HEIGHT} fill="#fff" />
      {panels.map((p) => (
        <Panel key={p.title} p={p} />
      ))}
      <Legend />
    </svg>
  );
}
